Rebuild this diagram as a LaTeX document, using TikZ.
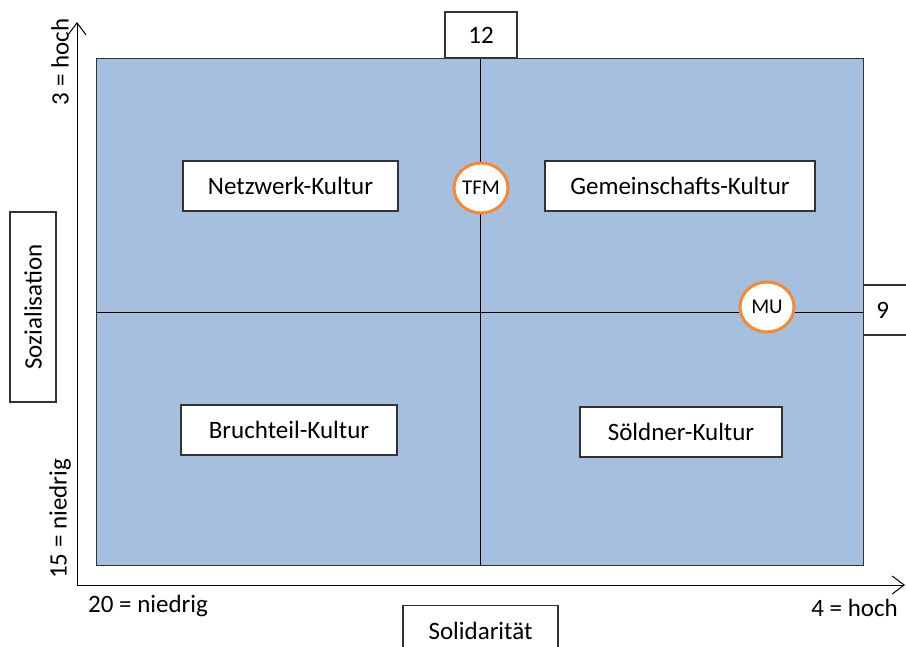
\documentclass[tikz,border=0pt]{standalone}
\usepackage{fontspec}
\setmainfont{Carlito}
\usetikzlibrary{arrows.meta,shapes.geometric}
\definecolor{quad}{HTML}{A7BFDE}
\definecolor{ring}{HTML}{F0893A}
\definecolor{edge}{HTML}{333333}
\tikzset{
  lbl/.style={draw=edge,fill=white,line width=1.2pt,font=\fontsize{25}{28}\selectfont,inner sep=0pt,align=center},
  dot/.style={ellipse,draw=ring,fill=white,line width=3pt,minimum width=54pt,minimum height=50pt,inner sep=0pt,font=\fontsize{21}{24}\selectfont},
  ax/.style={line width=1pt,-{Straight Barb[length=12pt,width=18pt,line width=1pt]}},
  plain/.style={font=\fontsize{25}{28}\selectfont,inner sep=0pt}
}
\begin{document}
\begin{tikzpicture}[x=1pt,y=-1pt]
\useasboundingbox (0,0) rectangle (906,646);
% quadrant field
\node[draw=edge,fill=quad,line width=1.2pt,minimum width=767pt,minimum height=507pt,inner sep=0pt,anchor=north west] (field) at (96,58) {};
\coordinate (vt) at (480,58);
\coordinate (vb) at (480,565);
\coordinate (hl) at (96,312);
\coordinate (hr) at (863,312);
\draw[line width=1pt] (vt) -- (vb);
\draw[line width=1pt] (hl) -- (hr);
% axes
\coordinate (o) at (77,585);
\coordinate (ytop) at (77,22);
\coordinate (xend) at (905,585);
\draw[ax] (o) -- (ytop);
\draw[ax] (o) -- (xend);
% boxes
\node[lbl,minimum width=72pt,minimum height=46pt] (b12) at (481,35) {12};
\node[lbl,minimum width=60pt,minimum height=50pt,anchor=west] (b9) at (863,310) {\hspace*{-22pt}9};
\node[lbl,minimum width=215pt,minimum height=50pt] (nk) at (290.5,186) {Netzwerk-Kultur};
\node[lbl,minimum width=270pt,minimum height=50pt] (gk) at (680,186) {Gemeinschafts-Kultur};
\node[lbl,minimum width=216pt,minimum height=50pt] (bk) at (289,430) {Bruchteil-Kultur};
\node[lbl,minimum width=202pt,minimum height=50pt] (sk) at (681,432) {Söldner-Kultur};
\node[lbl,minimum width=155pt,minimum height=50pt,anchor=north] (sol) at (480.5,605) {\raisebox{-8pt}{Solidarität}};
\node[lbl,rotate=90,minimum width=190pt,minimum height=46pt] (soz) at (33,307) {Sozialisation};
% markers
\node[dot] (tfm) at (481,188) {TFM};
\node[dot] (mu) at (767,307) {MU};
% axis labels
\node[plain,rotate=90] (yhi) at (60,62) {3 = hoch};
\node[plain,rotate=90] (ylo) at (60,519) {15 = niedrig};
\node[plain,anchor=west] (xlo) at (88,606) {20 = niedrig};
\node[plain,anchor=east] (xhi) at (898,608) {4 = hoch};
\end{tikzpicture}
\end{document}
